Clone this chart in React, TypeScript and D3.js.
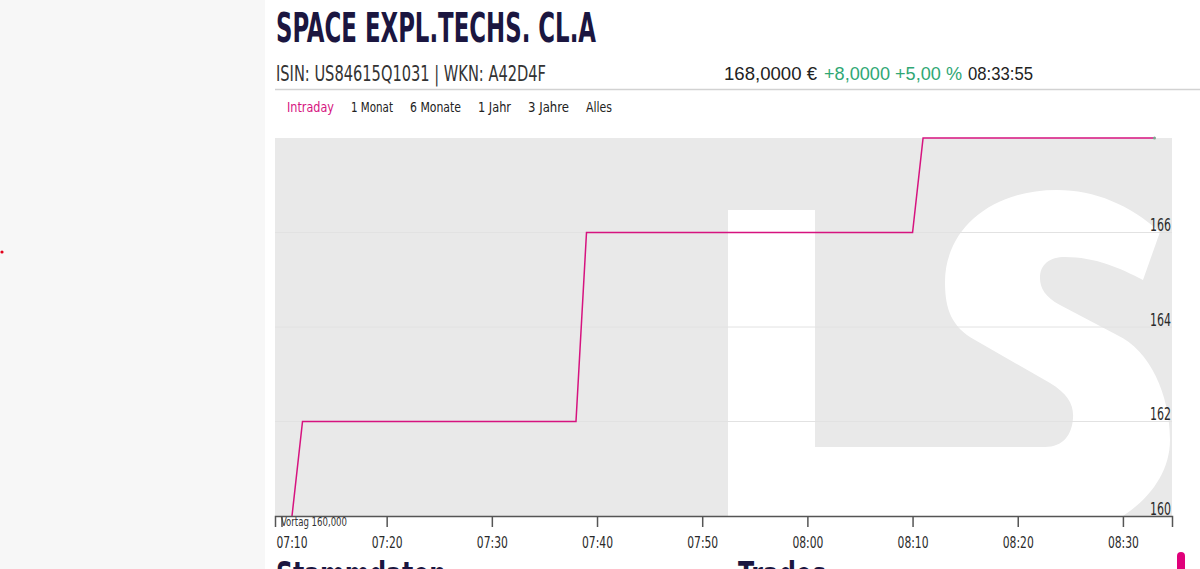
import { useRef, useEffect } from "react";
import * as d3 from "d3";

// Intraday trades (time, price in €)
const TRADE_TIMES = ["07:11", "07:12", "07:38", "07:39", "08:10", "08:11", "08:33"];
const TRADE_PRICES = [160, 162, 162, 166, 166, 168, 168];

const Y_TICKS = [160, 162, 164, 166];
const X_TICKS = ["07:10", "07:20", "07:30", "07:40", "07:50", "08:00", "08:10", "08:20", "08:30"];
const TABS = ["Intraday", "1 Monat", "6 Monate", "1 Jahr", "3 Jahre", "Alles"];

const PREV_CLOSE = 160;

const NARROW = "'Liberation Sans Narrow', 'DejaVu Sans Condensed', 'Roboto', sans-serif";
const NAVY = "#1b1640";
const PINK = "#d6137f";
const GREEN = "#2fa774";

const parseTime = (s: string) => {
  const [h, m] = s.split(":").map(Number);
  return new Date(2024, 0, 1, h, m, 0);
};

export default function App() {
  const svgRef = useRef<SVGSVGElement>(null);

  useEffect(() => {
    if (!svgRef.current) return;
    const svg = d3.select(svgRef.current);
    svg.selectAll("*").remove();

    const W = 1200;
    const H = 569;
    const plot = { left: 275, right: 1172, top: 138, bottom: 516 };

    // page background pieces
    svg.append("rect").attr("width", W).attr("height", H).attr("fill", "#fff");
    svg.append("rect").attr("width", 265).attr("height", H).attr("fill", "#f7f7f7");
    svg.append("circle").attr("cx", 2).attr("cy", 252).attr("r", 1.6).attr("fill", "#e2001a");

    // header
    svg.append("text")
      .attr("x", 276).attr("y", 42)
      .attr("font-family", NARROW).attr("font-weight", 700).attr("font-size", 40)
      .attr("fill", NAVY)
      .attr("textLength", 320).attr("lengthAdjust", "spacingAndGlyphs")
      .text("SPACE EXPL.TECHS. CL.A");

    svg.append("text")
      .attr("x", 276).attr("y", 81)
      .attr("font-family", NARROW).attr("font-size", 21)
      .attr("fill", "#333")
      .attr("textLength", 270).attr("lengthAdjust", "spacingAndGlyphs")
      .text("ISIN: US84615Q1031 | WKN: A42D4F");

    svg.append("line")
      .attr("x1", 275).attr("x2", 1200).attr("y1", 89.5).attr("y2", 89.5)
      .attr("stroke", "#d2d2d2").attr("stroke-width", 1.5);

    const quote = [
      { t: "168,0000 €", x: 724, w: 93, c: "#222" },
      { t: "+8,0000 +5,00 %", x: 824, w: 138, c: GREEN },
      { t: "08:33:55", x: 968, w: 65, c: "#222" },
    ];
    svg.selectAll("text.quote")
      .data(quote)
      .join("text")
      .attr("class", "quote")
      .attr("x", (d) => d.x).attr("y", 80)
      .attr("font-family", "'Liberation Sans', 'Roboto', sans-serif").attr("font-size", 19)
      .attr("fill", (d) => d.c)
      .attr("textLength", (d) => d.w).attr("lengthAdjust", "spacingAndGlyphs")
      .text((d) => d.t);

    const tabX = [287, 351, 410, 478, 528, 586];
    const tabW = [47, 42, 51, 33, 41, 26];
    svg.selectAll("text.tab")
      .data(TABS)
      .join("text")
      .attr("class", "tab")
      .attr("x", (_, i) => tabX[i]).attr("y", 112)
      .attr("font-family", NARROW).attr("font-size", 14)
      .attr("fill", (_, i) => (i === 0 ? PINK : "#222"))
      .attr("textLength", (_, i) => tabW[i]).attr("lengthAdjust", "spacingAndGlyphs")
      .text((d) => d);

    // scales
    const x = d3.scaleTime()
      .domain([new Date(2024, 0, 1, 7, 9, 23), new Date(2024, 0, 1, 8, 34, 40)])
      .range([plot.left, plot.right]);
    const y = d3.scaleLinear().domain([160, 168]).range([plot.bottom, plot.top]);

    // plot background with the LS watermark
    const clipId = "plot-clip";
    svg.append("clipPath").attr("id", clipId)
      .append("rect")
      .attr("x", plot.left).attr("y", plot.top)
      .attr("width", plot.right - plot.left).attr("height", plot.bottom - plot.top);

    const bg = svg.append("g").attr("clip-path", `url(#${clipId})`);
    bg.append("rect")
      .attr("x", plot.left).attr("y", plot.top)
      .attr("width", plot.right - plot.left).attr("height", plot.bottom - plot.top)
      .attr("fill", "#e9e9e9");
    // "L"
    bg.append("path")
      .attr("d", "M728,210 L815,210 L815,447 L1000,447 L1000,600 L728,600 Z")
      .attr("fill", "#fff");
    // "S"
    bg.append("path")
      .attr("d",
        "M1160,232 C1130,205 1095,190 1057,190 C990,190 945,230 945,282 " +
        "C945,310 952,327 975,340 L1050,383 C1068,394 1074,405 1073,418 " +
        "C1072,435 1063,447 1045,447 L960,447 L960,540 L1060,540 " +
        "C1120,530 1170,490 1170,440 C1170,395 1150,350 1117,335 " +
        "L1060,305 C1045,297 1040,288 1040,278 C1040,264 1050,257 1065,257 " +
        "C1095,257 1120,268 1143,280 Z")
      .attr("fill", "#fff");

    // gridlines
    svg.append("g")
      .selectAll("line")
      .data(Y_TICKS.filter((v) => v !== 160))
      .join("line")
      .attr("x1", plot.left).attr("x2", plot.right)
      .attr("y1", (d) => y(d)).attr("y2", (d) => y(d))
      .attr("stroke", "#e2e2e2").attr("stroke-width", 1);

    // y labels (right aligned, sitting on the gridline)
    svg.append("g")
      .selectAll("text")
      .data(Y_TICKS)
      .join("text")
      .attr("x", plot.right - 1)
      .attr("y", (d) => y(d) - 1.5)
      .attr("text-anchor", "end")
      .attr("font-family", NARROW).attr("font-size", 18)
      .attr("fill", "#2a2a2a")
      .attr("textLength", 21).attr("lengthAdjust", "spacingAndGlyphs")
      .text((d) => d);

    // price line
    const data = TRADE_TIMES.map((t, i) => ({ t: parseTime(t), v: TRADE_PRICES[i] }));
    const line = d3.line<{ t: Date; v: number }>()
      .x((d) => x(d.t))
      .y((d) => y(d.v));
    svg.append("path")
      .datum(data)
      .attr("d", line)
      .attr("fill", "none")
      .attr("stroke", PINK)
      .attr("stroke-width", 1.5);

    const last = data[data.length - 1];
    svg.append("circle")
      .attr("cx", x(last.t)).attr("cy", y(last.v))
      .attr("r", 1.5).attr("fill", "#7fa592");

    // x axis
    const xAxis = d3.axisBottom<Date>(x)
      .tickValues(X_TICKS.map(parseTime))
      .tickSize(11)
      .tickPadding(9.5)
      .tickFormat(d3.timeFormat("%H:%M"));
    svg.append("g")
      .attr("transform", `translate(0,${plot.bottom})`)
      .call(xAxis)
      .call((g) => {
        g.select(".domain").attr("stroke", "#555").attr("stroke-width", 1.5);
        g.selectAll(".tick line").attr("stroke", "#555").attr("stroke-width", 1.5);
        g.selectAll(".tick text")
          .attr("font-family", NARROW).attr("font-size", 16)
          .attr("fill", "#2a2a2a")
          .attr("textLength", 31).attr("lengthAdjust", "spacingAndGlyphs");
        g.select(".tick text").attr("text-anchor", "start").attr("x", plot.left + 1 - x(parseTime(X_TICKS[0])));
      });

    svg.append("text")
      .attr("x", 281).attr("y", 526)
      .attr("font-family", NARROW).attr("font-size", 11.5)
      .attr("fill", "#333")
      .attr("textLength", 66).attr("lengthAdjust", "spacingAndGlyphs")
      .text(`Vortag ${d3.format(".3f")(PREV_CLOSE).replace(".", ",")}`);

    // section headings cut off at the bottom
    svg.append("text")
      .attr("x", 276).attr("y", 586)
      .attr("font-family", NARROW).attr("font-weight", 700).attr("font-size", 34)
      .attr("fill", NAVY)
      .attr("textLength", 170).attr("lengthAdjust", "spacingAndGlyphs")
      .text("Stammdaten");
    svg.append("text")
      .attr("x", 738).attr("y", 586)
      .attr("font-family", NARROW).attr("font-weight", 700).attr("font-size", 34)
      .attr("fill", NAVY)
      .attr("textLength", 88).attr("lengthAdjust", "spacingAndGlyphs")
      .text("Trades");

    svg.append("rect")
      .attr("x", 1177).attr("y", 552).attr("width", 8).attr("height", 30)
      .attr("rx", 4).attr("fill", "#e0007a");
  }, []);

  return (
    <svg
      ref={svgRef}
      width={1200}
      height={569}
      style={{ position: "absolute", left: 0, top: 0, display: "block" }}
    />
  );
}
